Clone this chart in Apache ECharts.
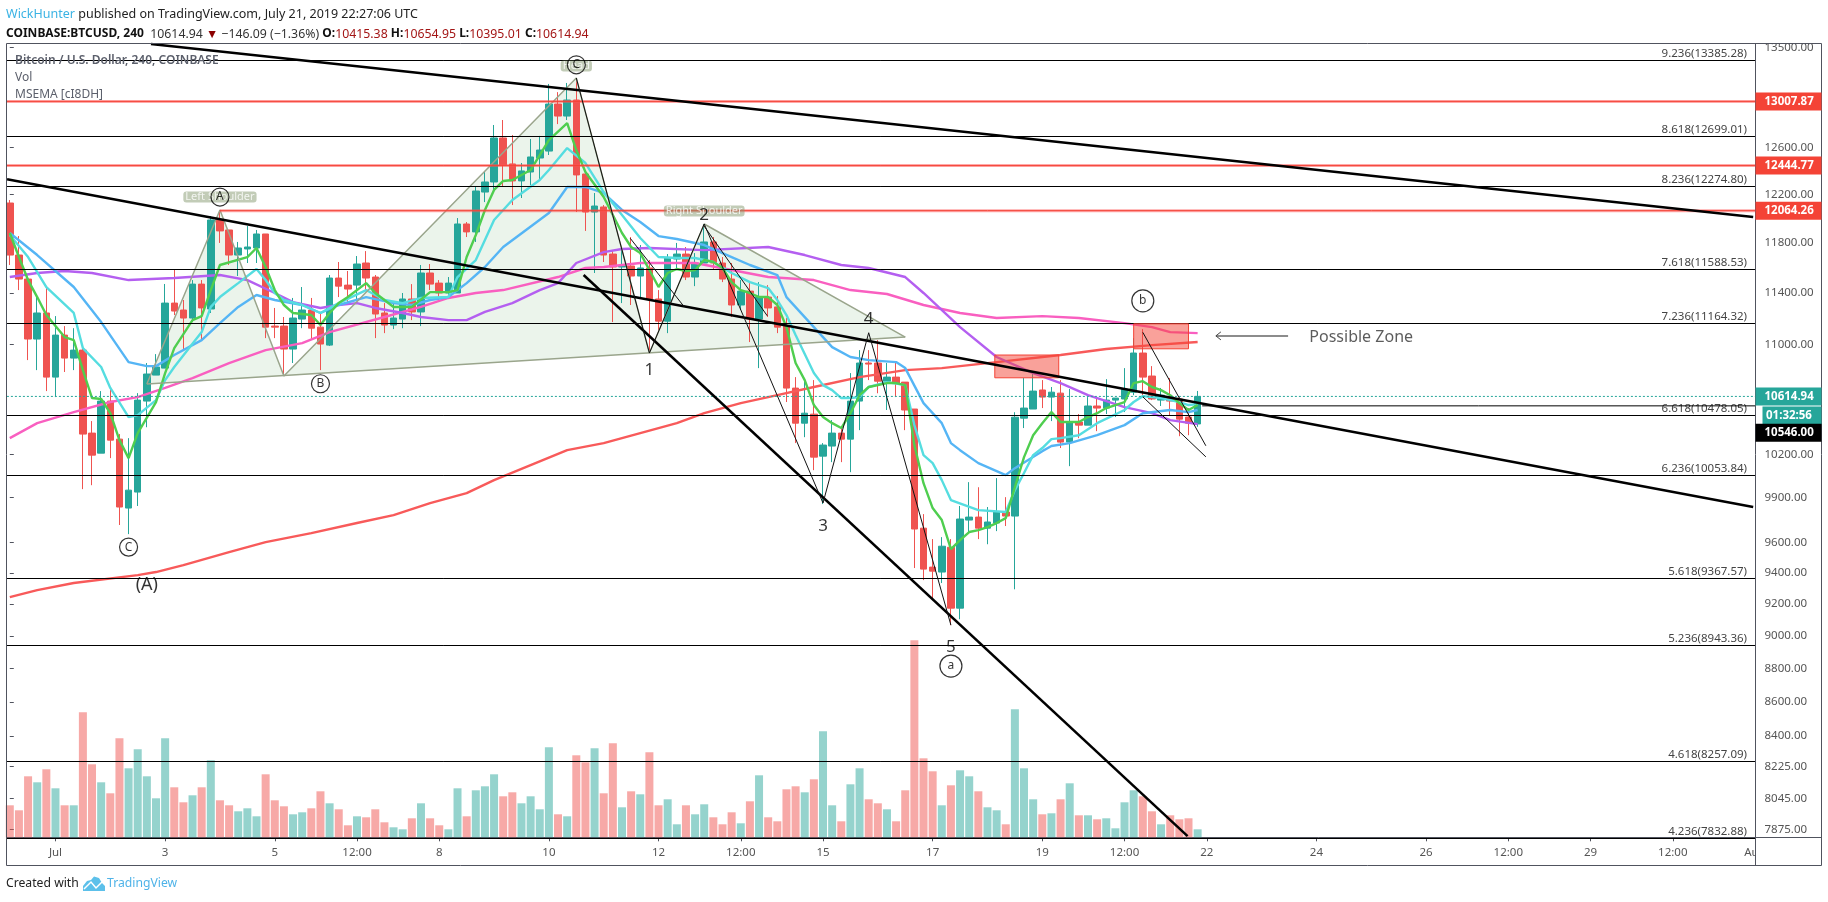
<!DOCTYPE html>
<html>
<head>
<meta charset="utf-8">
<title>BTCUSD 240</title>
<script src="https://cdn.jsdelivr.net/npm/echarts@6.0.0/dist/echarts.min.js"></script>
<style>
  html, body { margin: 0; padding: 0; background: #fff; }
  #chart { width: 1828px; height: 902px; }
</style>
</head>
<body>
<div id="chart"></div>
<script>
// 4h bars, bar 0 = Jun 30 04:00, bar 130 = Jul 21 20:00
var opens = [
  12128,11701,11509,11043,11243,10757,11073,10899,10959,10350,
  10208,10581,10307,9829,9938,10581,10772,10824,11320,11266,
  11204,11469,11274,11987,11905,11701,11750,11758,11872,11142,
  11142,10967,11196,11266,11134,10997,11517,11461,11461,11637,
  11525,11243,11150,11196,11352,11251,11557,11477,11399,11399,
  11954,11889,12220,12305,12684,12459,12314,12390,12510,12570,
  12984,12877,13020,12373,12053,12095,11709,11605,11613,11533,
  11597,11352,11180,11669,11709,11525,11637,11807,11637,11509,
  11305,11414,11196,11367,11290,11142,10676,10421,10486,10187,
  10258,10350,10307,10581,10862,10862,10727,10757,10720,10523,
  9694,9437,9405,9567,9174,9748,9768,9694,9728,9802,
  9775,10457,10523,10662,10610,10639,10286,10429,10407,10545,
  10530,10588,10596,10646,10937,10765,10588,10610,10596,10465,10415.38
];
var highs = [
  12153,11855,11525,11367,11438,11219,11142,11126,10982,10436,
  10654,10677,10343,10314,10639,10862,10929,11470,11581,11344,
  11501,11501,12020,12070,11905,11807,11938,11905,11872,11282,
  11212,11360,11446,11360,11243,11541,11645,11573,11693,11733,
  11541,11320,11320,11399,11469,11621,11629,11501,11525,12003,
  11970,12263,12399,12798,12842,12710,12467,12675,12702,13165,
  13091,13174,13219,12381,12212,12111,11741,11766,11847,11782,
  11661,11422,11709,11799,11766,11717,11954,11847,11685,11637,
  11501,11477,11485,11461,11375,11204,10757,10735,10735,10279,
  10443,10386,10787,10959,10959,11035,10862,10862,10720,10523,
  9788,9621,9634,9621,9843,10006,9971,9836,10034,9903,
  10500,10750,10802,10735,10684,10735,10669,10487,10610,10610,
  10742,10603,10824,11050,11119,10839,10677,10750,10610,10530,10654.95
];
var lows = [
  11621,11422,10884,10809,10654,10610,10795,10809,9958,9985,
  10208,10173,9715,9654,9843,10392,10772,10824,11227,10959,
  11173,11035,11243,11799,11621,11533,11637,11637,11050,11050,
  10765,10862,11126,11043,10809,10990,11367,11320,11344,11422,
  11050,11088,11119,11126,11188,11142,11422,11344,11383,11399,
  11847,11807,12136,12238,12263,12111,12170,12280,12322,12536,
  12806,12842,12053,11897,11557,11645,11173,11320,11305,11367,
  10937,11111,11088,11597,11501,11453,11637,11581,11485,11212,
  11266,11020,10824,11212,11088,10574,10279,10321,10089,9856,
  10145,10145,10075,10371,10735,10638,10516,10610,10371,9431,
  9353,9238,9334,9067,9104,9668,9621,9587,9674,9708,
  9294,10386,10523,10530,10436,10244,10117,10314,10407,10364,
  10487,10465,10501,10624,10624,10588,10545,10479,10328,10335,10395.01
];
var closes = [
  11701,11509,11043,11243,10757,11073,10899,10959,10343,10194,
  10581,10300,9836,9951,10588,10780,10832,11320,11258,11204,
  11469,11282,11987,11897,11701,11758,11766,11872,11134,11134,
  10967,11204,11266,11126,11005,11517,11453,11430,11629,11517,
  11235,11150,11204,11352,11251,11557,11469,11399,11477,11954,
  11889,12229,12305,12684,12450,12314,12399,12519,12579,12984,
  12877,13020,12365,12053,12103,11701,11605,11613,11533,11597,
  11352,11180,11677,11709,11525,11637,11807,11637,11509,11305,
  11414,11196,11367,11282,11134,10676,10421,10493,10180,10265,
  10350,10307,10581,10862,10854,10727,10757,10713,10516,9688,
  9424,9411,9574,9174,9755,9768,9694,9735,9802,9775,
  10464,10530,10654,10610,10646,10286,10429,10407,10545,10530,
  10588,10603,10669,10937,10757,10596,10624,10581,10450,10421,10614.94
];
// no scale on the picture for volume, so these are relative heights
var volumes = [
  32,27,61,55,68,49,32,32,125,73,55,44,99,69,88,61,39,99,50,35,
  42,50,77,37,32,26,29,21,63,37,31,23,25,29,46,34,28,12,21,20,
  28,15,10,8,19,34,19,12,8,49,21,47,51,63,41,45,34,41,28,90,
  23,21,82,75,89,44,94,30,46,43,85,32,38,13,32,23,33,20,13,25,
  14,36,62,20,16,48,51,45,58,106,32,16,53,69,38,34,28,16,47,197,
  79,66,32,52,67,61,46,30,27,13,128,69,38,23,24,38,54,22,22,18,
  19,9,35,47,41,26,13,22,18,19,8
];

// indicator lines as [bar, price]
var emaGreen = [[0,11880],[1,11685],[2,11501],[3,11367],[4,11227],[6,11058],[7,11035],[8,10809],[9,10603],[10,10596],[11,10493],[12,10300],[13,10173],[14,10350],[16,10574],[17,10787],[18,10974],[20,11188],[21,11219],[22,11422],[23,11621],[26,11685],[27,11758],[28,11605],[29,11422],[30,11305],[31,11243],[33,11227],[34,11150],[35,11243],[36,11320],[37,11367],[39,11477],[40,11399],[41,11344],[42,11290],[44,11290],[46,11406],[48,11406],[49,11422],[50,11685],[51,11864],[52,12070],[53,12238],[54,12314],[55,12322],[57,12407],[59,12666],[61,12815],[62,12579],[63,12390],[65,12178],[67,11880],[68,11766],[69,11717],[70,11581],[71,11446],[72,11557],[73,11589],[74,11573],[75,11581],[76,11661],[77,11645],[78,11597],[79,11485],[80,11422],[81,11399],[82,11367],[83,11367],[84,11305],[85,11134],[86,10862],[87,10735],[88,10552],[89,10465],[90,10421],[91,10386],[92,10493],[93,10624],[94,10684],[95,10698],[96,10713],[97,10713],[98,10698],[99,10265],[100,9999],[101,9829],[102,9748],[103,9555],[104,9614],[105,9668],[106,9681],[107,9701],[108,9728],[109,9761],[110,9971],[111,10180],[112,10335],[113,10421],[114,10501],[115,10429],[116,10429],[117,10429],[118,10465],[119,10493],[120,10530],[121,10552],[122,10574],[123,10713],[124,10727],[125,10684],[126,10661],[127,10624],[128,10566],[129,10516],[130,10552]];
var emaCyan = [[0,11864],[2,11685],[4,11446],[7,11243],[8,10974],[10,10832],[11,10677],[13,10465],[14,10479],[16,10588],[17,10735],[18,10832],[21,11096],[22,11290],[23,11367],[24,11422],[25,11477],[27,11589],[28,11501],[29,11399],[30,11344],[32,11305],[34,11243],[36,11320],[39,11422],[41,11344],[43,11320],[45,11360],[48,11367],[49,11525],[51,11661],[53,11987],[55,12153],[58,12322],[59,12407],[61,12596],[63,12467],[65,12220],[67,12028],[69,11839],[71,11685],[73,11677],[75,11677],[77,11645],[79,11557],[81,11485],[83,11438],[84,11344],[85,11227],[86,11073],[88,10787],[89,10698],[90,10661],[91,10603],[92,10603],[93,10610],[94,10684],[96,10720],[98,10698],[99,10407],[100,10194],[101,10138],[102,10020],[103,9883],[106,9815],[109,9802],[110,9951],[111,10069],[112,10194],[113,10244],[114,10307],[115,10314],[117,10335],[119,10421],[122,10516],[123,10574],[124,10617],[126,10603],[128,10574],[129,10552],[130,10559]];
var emaBlue = [[0,11880],[3,11701],[7,11446],[10,11173],[13,10869],[15,10839],[16,10839],[18,10922],[21,11035],[23,11165],[25,11290],[27,11383],[29,11344],[32,11305],[34,11243],[36,11305],[39,11367],[42,11320],[44,11305],[46,11344],[48,11367],[50,11477],[52,11605],[54,11766],[59,12045],[61,12263],[63,12263],[64,12238],[65,12212],[67,12070],[69,11970],[71,11855],[73,11831],[76,11782],[79,11685],[81,11621],[84,11541],[85,11367],[88,11134],[90,10982],[92,10907],[94,10884],[97,10869],[98,10824],[100,10566],[102,10421],[103,10279],[104,10229],[106,10138],[109,10055],[110,10103],[113,10222],[114,10258],[116,10279],[119,10335],[122,10407],[124,10493],[127,10516],[129,10501],[130,10516]];
var emaPurple = [[0,11525],[3,11557],[6,11573],[9,11557],[13,11501],[18,11517],[23,11541],[26,11501],[29,11399],[31,11328],[34,11282],[36,11305],[38,11320],[40,11282],[43,11243],[45,11212],[48,11188],[50,11188],[52,11251],[55,11320],[58,11422],[60,11477],[62,11637],[65,11725],[67,11750],[70,11758],[76,11741],[83,11766],[87,11701],[91,11621],[94,11597],[98,11525],[100,11399],[104,11134],[108,10907],[112,10787],[115,10713],[118,10624],[122,10537],[125,10493],[127,10443],[130,10414]];
var emaPink = [[0,10314],[3,10421],[7,10501],[11,10574],[14,10610],[17,10677],[20,10750],[24,10862],[28,10959],[32,11012],[35,11096],[41,11212],[45,11290],[48,11360],[51,11399],[54,11422],[60,11525],[63,11597],[65,11605],[69,11637],[75,11637],[79,11581],[83,11525],[88,11501],[92,11422],[96,11391],[100,11305],[104,11243],[108,11204],[113,11219],[117,11204],[122,11165],[125,11134],[127,11096],[130,11088]];
var emaRed = [[0,9244],[3,9289],[7,9334],[14,9385],[16,9405],[19,9450],[24,9535],[28,9601],[33,9661],[38,9728],[42,9781],[46,9863],[50,9931],[53,10020],[57,10124],[61,10229],[65,10279],[69,10350],[73,10421],[76,10493],[80,10566],[84,10624],[88,10684],[93,10757],[98,10809],[102,10824],[108,10869],[115,10922],[120,10967],[125,10997],[130,11020]];

var priceTicks = [13500,12600,12200,11800,11400,11000,10200,9900,9600,9400,9200,9000,8800,8600,8400,8225,8045,7875];
var timeTickBars = [5,17,29,38,47,59,71,80,89,101,113,122,131,143,155,164,173,182,191];
var timeTickLabels = ['Jul','3','5','12:00','8','10','12','12:00','15','17','19','12:00','22','24','26','12:00','29','12:00','Aug'];

var fibRatios = ['9.236','8.618','8.236','7.618','7.236','6.618','6.236','5.618','5.236','4.618','4.236'];
var fibPrices = [13385.28,12699.01,12274.80,11588.53,11164.32,10478.05,10053.84,9367.57,8943.36,8257.09,7832.88];
var redLevels = [13007.87,12444.77,12064.26];
var redLevelStart = [-0.32,-0.32,23];
var lastPrice = 10614.94;
var crossPrice = 10546;

var tagPrices = [13007.87,12444.77,12064.26,10614.94,10614.94,10546];
var tagTexts = ['13007.87','12444.77','12064.26','10614.94','01:32:56','10546.00'];
var tagColors = ['#f44336','#f44336','#f44336','#26a69a','#26a69a','#000000'];
var tagShifts = [0,0,0,0,19,27];

// head and shoulders anchors
var hsBars = [15,23,30,62,70,76,98];
var hsPrices = [10706,12070,10765,13219,10937,11954,11058];
var shoulderLabels = [[23,12178,'Left Shoulder'],[62,13329,'Head'],[76,12062,'Right Shoulder']];

var thickLines = [
  [[15.45,13532],[190.8,12012]],
  [[-0.3,12328],[190.8,9836]],
  [[62.8,11541],[128.9,7840]]
];
var waveLine = [[62,13219],[70,10937],[76,11954],[89,9863],[94,11091],[103,9067]];
var thinLines = [
  [[67.9,11837],[73.8,11292]],
  [[75.9,11946],[82.9,11221]],
  [[124,11094],[130.9,10260]],
  [[124,10612],[130.9,10182]]
];
var zones = [[107.8,114.8,10922,10752],[123,129,11159,10969]];
var waveNumbers = [[70,10810,'1'],[76,12025,'2'],[89,9710,'3'],[94,11195,'4'],[103,8930,'5']];
var circleMarks = [[13,9568,'C',18],[34,10708,'B',18],[23,12178,'A',18],[62,13340,'C',18],[124,11338,'b',22],[103,8815,'a',22]];
var bigLabel = [15,9322,'(A)'];
var zoneArrow = [[139.9,11067],[132,11067]];
var zoneText = [147.9,11052,'Possible Zone'];

var FONT = '"Noto Sans", sans-serif';
var UP = '#26a69a', DOWN = '#ef5350';
var AXIS_MIN = -0.317, AXIS_MAX = 191;

function lineSeries(data, color, width, z, extra) {
  var s = {
    type: 'line', data: data, symbol: 'none', silent: true, z: z,
    lineStyle: { color: color, width: width }, animation: false
  };
  return Object.assign(s, extra || {});
}

var candleData = opens.map(function (o, i) { return [i, o, closes[i], lows[i], highs[i]]; });
var volumeData = volumes.map(function (v, i) {
  return { value: [i, v], itemStyle: { color: closes[i] >= opens[i] ? 'rgba(38,166,154,0.49)' : 'rgba(239,83,80,0.5)' } };
});

var series = [];

series.push({
  type: 'bar', xAxisIndex: 0, yAxisIndex: 1, data: volumeData, barWidth: 8, z: 1, silent: true
});

// head and shoulders fill, behind the candles
series.push({
  type: 'custom', z: 1, silent: true, clip: true,
  data: [[0], [2], [4]],
  encode: { x: 0 },
  renderItem: function (params, api) {
    var k = api.value(0);
    var pts = [k, k + 1, k + 2].map(function (j) { return api.coord([hsBars[j], hsPrices[j]]); });
    return { type: 'polygon', shape: { points: pts }, style: { fill: 'rgba(76,153,76,0.11)', stroke: null } };
  }
});

series.push({
  type: 'candlestick', data: candleData, barWidth: 7, z: 2, silent: true,
  encode: { x: 0, y: [1, 2, 3, 4] },
  itemStyle: { color: UP, color0: DOWN, borderColor: UP, borderColor0: DOWN, borderWidth: 1 }
});

series.push(lineSeries(emaRed, '#f85a5a', 2.4, 3));
series.push(lineSeries(emaPink, '#f95fc0', 2.4, 3));
series.push(lineSeries(emaPurple, '#b45ff0', 2.4, 3));
series.push(lineSeries(emaBlue, '#55b5f5', 2.4, 3));
series.push(lineSeries(emaCyan, '#55dde0', 2.4, 3));
series.push(lineSeries(emaGreen, '#4fce4f', 2.4, 3));

// head and shoulders outline
series.push(lineSeries(hsBars.map(function (b, i) { return [b, hsPrices[i]]; }), '#9aa58c', 1.5, 4));
series.push(lineSeries([[hsBars[0], hsPrices[0]], [hsBars[6], hsPrices[6]]], '#9aa58c', 1.5, 4));

// fib levels and their texts
series.push({
  type: 'custom', z: 5, silent: true,
  data: fibPrices.map(function (p, i) { return [190, p, i]; }),
  encode: { x: 0, y: 1 },
  renderItem: function (params, api) {
    var cs = params.coordSys;
    var y = Math.round(api.coord([0, api.value(1)])[1]) + 0.5;
    var i = api.value(2);
    return {
      type: 'group',
      children: [
        { type: 'line', shape: { x1: cs.x, y1: y, x2: cs.x + cs.width, y2: y }, style: { stroke: '#000', lineWidth: 1 } },
        { type: 'text', style: {
            x: cs.x + cs.width - 8, y: y - 6.7, text: fibRatios[i] + '(' + fibPrices[i].toFixed(2) + ')',
            fill: '#444', font: '11.5px ' + FONT, align: 'right', verticalAlign: 'middle'
        } }
      ]
    };
  }
});

redLevels.forEach(function (p, i) {
  var pts = [[redLevelStart[i], p], [AXIS_MAX, p]];
  series.push(lineSeries(pts, 'rgba(255,82,82,0.5)', 3, 5));
  series.push(lineSeries(pts, '#f44336', 1, 5));
});
series.push(lineSeries([[AXIS_MIN, lastPrice], [AXIS_MAX, lastPrice]], UP, 1, 5, { lineStyle: { color: UP, width: 1, type: [2, 2] } }));
series.push(lineSeries([[130.5, crossPrice], [AXIS_MAX, crossPrice]], '#000', 1, 5));

// drawn trend lines and wave counts
thickLines.forEach(function (pts) { series.push(lineSeries(pts, '#000', 2.5, 6)); });
series.push(lineSeries(waveLine, '#111', 1, 6));
thinLines.forEach(function (pts) { series.push(lineSeries(pts, '#111', 1, 6)); });

// possible zone boxes
series.push({
  type: 'custom', z: 5, silent: true, clip: true,
  data: zones,
  encode: { x: [0, 1], y: [2, 3] },
  renderItem: function (params, api) {
    var a = api.coord([api.value(0), api.value(2)]);
    var b = api.coord([api.value(1), api.value(3)]);
    return {
      type: 'rect',
      shape: { x: a[0], y: a[1], width: b[0] - a[0], height: b[1] - a[1] },
      style: { fill: 'rgba(244,67,54,0.5)', stroke: '#f44336', lineWidth: 1 }
    };
  }
});

// arrow towards the zone
series.push({
  type: 'custom', z: 6, silent: true,
  data: [[zoneArrow[0][0], zoneArrow[0][1], zoneArrow[1][0], zoneArrow[1][1]]],
  encode: { x: [0, 2], y: [1, 3] },
  renderItem: function (params, api) {
    var a = api.coord([api.value(0), api.value(1)]);
    var b = api.coord([api.value(2), api.value(3)]);
    return {
      type: 'group',
      children: [
        { type: 'line', shape: { x1: a[0], y1: a[1], x2: b[0], y2: b[1] }, style: { stroke: '#666', lineWidth: 1.5 } },
        { type: 'polyline', shape: { points: [[b[0] + 5, b[1] - 4], [b[0], b[1]], [b[0] + 5, b[1] + 4]] }, style: { stroke: '#444', lineWidth: 1, fill: null } }
      ]
    };
  }
});

function textSeries(data, size, color, z, extra) {
  return {
    type: 'scatter', data: data, symbolSize: 1, z: z, silent: true, encode: { x: 0, y: 1 },
    itemStyle: { color: 'transparent' },
    label: Object.assign({
      show: true, position: 'inside', fontFamily: FONT, fontSize: size, color: color,
      formatter: function (p) { return p.value[2]; }
    }, extra || {})
  };
}

series.push(textSeries(shoulderLabels, 11, '#fff', 7, {
  backgroundColor: 'rgba(132,152,110,0.62)', borderRadius: 3, padding: [0, 2]
}));
series.push(textSeries(waveNumbers, 17, '#000', 8));
series.push(textSeries([bigLabel], 18, '#000', 8));
series.push(textSeries([zoneText], 16, '#333', 8, { letterSpacing: 0.7 }));

series.push({
  type: 'scatter', data: circleMarks, z: 8, silent: true, encode: { x: 0, y: 1 },
  symbol: 'circle',
  symbolSize: function (v) { return v[3]; },
  itemStyle: { color: 'rgba(255,255,255,0)', borderColor: '#000', borderWidth: 1.2 },
  label: {
    show: true, position: 'inside', fontFamily: FONT, color: '#000',
    fontSize: 12,
    formatter: function (p) { return p.value[2]; }
  }
});

// price tags on the scale
series.push({
  type: 'custom', z: 60, silent: true,
  data: tagPrices.map(function (p, i) { return [190, p, i]; }),
  encode: { x: 0, y: 1 },
  renderItem: function (params, api) {
    var cs = params.coordSys;
    var i = api.value(2);
    var y = api.coord([0, api.value(1)])[1] + tagShifts[i];
    var left = cs.x + cs.width + 0.5;
    if (tagTexts[i].indexOf(':') > 0) left += 7;
    return {
      type: 'group',
      children: [
        { type: 'rect', shape: { x: left, y: y - 9, width: 1821.5 - left, height: 18 }, style: { fill: tagColors[i] } },
        { type: 'text', style: {
            x: cs.x + cs.width + (left > cs.x + cs.width + 1 ? 11 : 9.5), y: y, text: tagTexts[i], fill: '#fff',
            font: 'bold 11.5px ' + FONT, align: 'left', verticalAlign: 'middle'
        } }
      ]
    };
  }
});

var chart = echarts.init(document.getElementById('chart'), null, { renderer: 'canvas' });

chart.setOption({
  animation: false,
  backgroundColor: '#ffffff',
  textStyle: { fontFamily: FONT },
  grid: { left: 6.9, right: 73, top: 43.3, bottom: 64.7, containLabel: false },
  xAxis: {
    type: 'value', min: AXIS_MIN, max: AXIS_MAX, splitLine: { show: false },
    axisLine: { show: true, onZero: false, lineStyle: { color: '#50535e', width: 1 } },
    axisTick: { show: true, length: 4, customValues: timeTickBars, lineStyle: { color: '#50535e' } },
    axisLabel: {
      show: true, customValues: timeTickBars, color: '#555', fontSize: 11.5, margin: 9, hideOverlap: false,
      formatter: function (v) { return timeTickLabels[timeTickBars.indexOf(v)] || ''; }
    }
  },
  yAxis: [
    {
      type: 'log', position: 'right', min: 7834, max: 13539, splitLine: { show: false },
      axisLine: { show: false },
      axisTick: { show: true, length: 4, customValues: priceTicks, lineStyle: { color: '#50535e' } },
      axisLabel: {
        show: true, customValues: priceTicks, color: '#555', fontSize: 11.5, margin: 9.5, align: 'left',
        formatter: function (v) { return Number(v).toFixed(2); }
      }
    },
    {
      type: 'value', position: 'right', min: 0, max: 794, show: false, splitLine: { show: false },
      axisTick: { show: false }, axisLabel: { show: false }, axisLine: { show: false }
    }
  ],
  series: series,
  graphic: [
    { type: 'text', z: 70, style: {
        x: 6, y: 14.5, verticalAlign: 'middle', font: '12.5px ' + FONT, fill: '#222',
        text: '{a|WickHunter} published on TradingView.com, July 21, 2019 22:27:06 UTC',
        rich: { a: { fill: '#3bb3e4', font: '12.5px ' + FONT } }
    } },
    { type: 'text', z: 70, style: {
        x: 6, y: 34, verticalAlign: 'middle', font: '12.3px ' + FONT, fill: '#333',
        text: '{b|COINBASE:BTCUSD, 240}  10614.94 {t|▼} −146.09 (−1.36%) {b|O:}{r|10415.38} {b|H:}{r|10654.95} {b|L:}{r|10395.01} {b|C:}{r|10614.94}',
        rich: {
          b: { fill: '#111', font: 'bold 12px ' + FONT },
          r: { fill: '#a31515', font: '12.3px ' + FONT },
          t: { fill: '#8b0000', font: '12.3px ' + FONT }
        }
    } },
    { type: 'text', z: 70, style: { x: 15, y: 60.5, verticalAlign: 'middle', font: '600 12px ' + FONT, fill: '#5b5f6b', text: 'Bitcoin / U.S. Dollar, 240, COINBASE' } },
    { type: 'text', z: 70, style: { x: 15, y: 77.5, verticalAlign: 'middle', font: '12px ' + FONT, fill: '#5b5f6b', text: 'Vol' } },
    { type: 'text', z: 70, style: { x: 15, y: 94.5, verticalAlign: 'middle', font: '12px ' + FONT, fill: '#5b5f6b', text: 'MSEMA [cI8DH]' } },
    // covers the clipped Aug label past the price scale
    { type: 'rect', z: 40, shape: { x: 1755.5, y: 838, width: 66, height: 27 }, style: { fill: '#fff' } },
    // chart frame
    { type: 'rect', z: 50, silent: true, shape: { x: 6.5, y: 43.5, width: 1815, height: 822 }, style: { fill: null, stroke: '#50535e', lineWidth: 1 } },
    { type: 'line', z: 50, silent: true, shape: { x1: 1755.5, y1: 43.5, x2: 1755.5, y2: 865.5 }, style: { stroke: '#50535e', lineWidth: 1 } },
    { type: 'line', z: 50, silent: true, shape: { x1: 1755.5, y1: 837.5, x2: 1821.5, y2: 837.5 }, style: { stroke: '#50535e', lineWidth: 1 } },
    // footer
    { type: 'text', z: 70, style: { x: 6, y: 884, verticalAlign: 'middle', font: '12.2px ' + FONT, fill: '#222', text: 'Created with' } },
    { type: 'polygon', z: 70, shape: { points: [[83, 891], [83, 886], [87, 881], [91, 880], [94, 876.5], [99, 878], [102, 883], [105, 886], [105, 891]] }, style: { fill: '#5cc0ea' } },
    { type: 'polyline', z: 71, shape: { points: [[84, 889], [91, 882], [96, 888], [102, 882]] }, style: { stroke: '#fff', lineWidth: 1.5, fill: null } },
    { type: 'text', z: 70, style: { x: 107, y: 884, verticalAlign: 'middle', font: '12.2px ' + FONT, fill: '#4fb3e8', text: 'TradingView' } }
  ]
});
</script>
</body>
</html>
